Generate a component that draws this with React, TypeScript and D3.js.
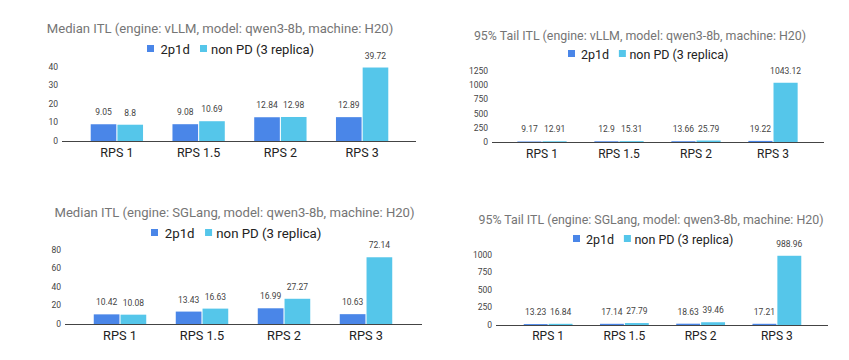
import React from "react";
import { scaleBand, scaleLinear } from "d3";

const categories = ["RPS 1", "RPS 1.5", "RPS 2", "RPS 3"];
const seriesNames = ["2p1d", "non PD (3 replica)"];
const seriesColors = ["#4a86e8", "#55c6ea"];

const vllmMedian2p1d = [9.05, 9.08, 12.84, 12.89];
const vllmMedianNonPD = [8.8, 10.69, 12.98, 39.72];
const vllmTail2p1d = [9.17, 12.9, 13.66, 19.22];
const vllmTailNonPD = [12.91, 15.31, 25.79, 1043.12];
const sglangMedian2p1d = [10.42, 13.43, 16.99, 10.63];
const sglangMedianNonPD = [10.08, 16.63, 27.27, 72.14];
const sglangTail2p1d = [13.23, 17.14, 18.63, 17.21];
const sglangTailNonPD = [16.84, 27.79, 39.46, 988.96];

const vllmMedianTicks = [0, 10, 20, 30, 40];
const vllmTailTicks = [0, 250, 500, 750, 1000, 1250];
const sglangMedianTicks = [0, 20, 40, 60, 80];
const sglangTailTicks = [0, 250, 500, 750, 1000];

interface PanelLayout {
  title: string;
  series: number[][];
  ticks: number[];
  axisX: [number, number];
  bandRange: [number, number];
  baseY: number;
  topY: number;
  titleX: number;
  titleY: number;
  titleSize: number;
  legendX: number;
  legendY: number;
  catY: number;
  s: number;
}

const panels: PanelLayout[] = [
  {
    title: "Median ITL (engine: vLLM, model: qwen3-8b, machine: H20)",
    series: [vllmMedian2p1d, vllmMedianNonPD],
    ticks: vllmMedianTicks,
    axisX: [62, 416],
    bandRange: [76, 403],
    baseY: 141,
    topY: 67,
    titleX: 220,
    titleY: 33,
    titleSize: 13.1,
    legendX: 147,
    legendY: 53.5,
    catY: 157,
    s: 1,
  },
  {
    title: "95% Tail ITL (engine: vLLM, model: qwen3-8b, machine: H20)",
    series: [vllmTail2p1d, vllmTailNonPD],
    ticks: vllmTailTicks,
    axisX: [492, 824],
    bandRange: [503.5, 811.5],
    baseY: 142,
    topY: 71,
    titleX: 640,
    titleY: 40,
    titleSize: 12.4,
    legendX: 568,
    legendY: 58.5,
    catY: 157.5,
    s: 0.96,
  },
  {
    title: "Median ITL (engine: SGLang, model: qwen3-8b, machine: H20)",
    series: [sglangMedian2p1d, sglangMedianNonPD],
    ticks: sglangMedianTicks,
    axisX: [65, 422],
    bandRange: [79, 407],
    baseY: 324,
    topY: 250,
    titleX: 234.5,
    titleY: 217,
    titleSize: 13.1,
    legendX: 151,
    legendY: 237.5,
    catY: 339.5,
    s: 1.02,
  },
  {
    title: "95% Tail ITL (engine: SGLang, model: qwen3-8b, machine: H20)",
    series: [sglangTail2p1d, sglangTailNonPD],
    ticks: sglangTailTicks,
    axisX: [496, 828],
    bandRange: [510, 815],
    baseY: 325,
    topY: 255,
    titleX: 651,
    titleY: 223.5,
    titleSize: 12.4,
    legendX: 573,
    legendY: 243.5,
    catY: 340,
    s: 0.96,
  },
];

const font = "Roboto, Arial, sans-serif";

const Panel: React.FC<{ p: PanelLayout }> = ({ p }) => {
  const x0 = scaleBand<string>()
    .domain(categories)
    .range(p.bandRange)
    .paddingInner(0.36)
    .paddingOuter(0.18);
  const x1 = scaleBand<number>()
    .domain([0, 1])
    .range([0, x0.bandwidth()])
    .paddingInner(0.04);
  const maxTick = p.ticks[p.ticks.length - 1];
  const y = scaleLinear().domain([0, maxTick]).range([p.baseY, p.topY]);
  const s = p.s;

  return (
    <g fontFamily={font}>
      <text
        x={p.titleX}
        y={p.titleY}
        textAnchor="middle"
        fontSize={p.titleSize}
        fill="#757575"
      >
        {p.title}
      </text>
      {/* legend */}
      <g>
        <rect x={p.legendX} y={p.legendY - 8.5} width={7} height={7} fill={seriesColors[0]} />
        <text x={p.legendX + 13.5 * s} y={p.legendY} fontSize={13 * s} fill="#222">
          {seriesNames[0]}
        </text>
        <rect x={p.legendX + 53 * s} y={p.legendY - 8.5} width={7} height={7} fill={seriesColors[1]} />
        <text x={p.legendX + 64 * s} y={p.legendY} fontSize={13 * s} fill="#222">
          {seriesNames[1]}
        </text>
      </g>
      {p.ticks.map((t) => (
        <text
          key={t}
          x={p.axisX[0] - 4}
          y={y(t)}
          dy="0.35em"
          textAnchor="end"
          fontSize={8.5}
          fill="#444"
        >
          {t}
        </text>
      ))}
      {categories.map((c, i) => (
        <g key={c} transform={`translate(${x0(c)},0)`}>
          {p.series.map((vals, si) => {
            const v = vals[i];
            const bx = x1(si) as number;
            const bw = x1.bandwidth();
            return (
              <g key={si}>
                <rect
                  x={bx}
                  y={y(v)}
                  width={bw}
                  height={p.baseY - y(v)}
                  fill={seriesColors[si]}
                />
                <text
                  x={bx + bw / 2}
                  y={y(v) - 9}
                  textAnchor="middle"
                  fontSize={8.5}
                  fill="#444"
                >
                  {v}
                </text>
              </g>
            );
          })}
          <text
            x={x0.bandwidth() / 2}
            y={p.catY}
            textAnchor="middle"
            fontSize={12.5 * s}
            fill="#222"
          >
            {c}
          </text>
        </g>
      ))}
      <line
        x1={p.axisX[0]}
        x2={p.axisX[1]}
        y1={p.baseY + 0.5}
        y2={p.baseY + 0.5}
        stroke="#444"
        strokeWidth={1}
      />
    </g>
  );
};

export default function App() {
  return (
    <svg
      width={849}
      height={360}
      style={{ position: "absolute", left: 0, top: 0, background: "#fff" }}
    >
      <rect width={849} height={360} fill="#fff" />
      {panels.map((p, i) => (
        <Panel key={i} p={p} />
      ))}
    </svg>
  );
}
